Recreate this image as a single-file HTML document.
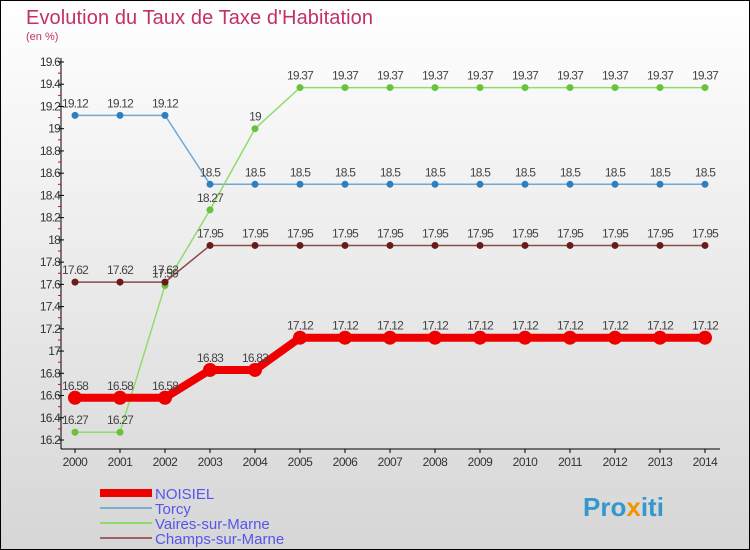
<!DOCTYPE html>
<html><head><meta charset="utf-8"><style>
body{margin:0}
svg{display:block;font-family:"Liberation Sans",sans-serif}
</style></head><body>
<svg id="c" width="750" height="550" xmlns="http://www.w3.org/2000/svg">
<defs><linearGradient id="bg" x1="0" y1="0" x2="0" y2="1"><stop offset="0" stop-color="#ffffff"/><stop offset="1" stop-color="#d6d6d6"/></linearGradient></defs>
<rect x="0.5" y="0.5" width="749" height="549" fill="url(#bg)" stroke="#000"/>
<text x="26" y="24" font-size="20" fill="#c2306a" textLength="347">Evolution du Taux de Taxe d'Habitation</text>
<text x="26" y="40" font-size="11" fill="#c2306a">(en %)</text>
<g id="axes"></g><g id="series"></g><g id="legend"></g>
<text x="583" y="516" font-size="26" font-weight="bold" fill="#3399cc">Pro<tspan fill="#f29400">x</tspan>iti</text>
</svg>
<script>
const years=[2000,2001,2002,2003,2004,2005,2006,2007,2008,2009,2010,2011,2012,2013,2014];
const noisiel=[16.58,16.58,16.58,16.83,16.83,17.12,17.12,17.12,17.12,17.12,17.12,17.12,17.12,17.12,17.12];
const torcy=[19.12,19.12,19.12,18.5,18.5,18.5,18.5,18.5,18.5,18.5,18.5,18.5,18.5,18.5,18.5];
const vaires=[16.27,16.27,17.59,18.27,19,19.37,19.37,19.37,19.37,19.37,19.37,19.37,19.37,19.37,19.37];
const champs=[17.62,17.62,17.62,17.95,17.95,17.95,17.95,17.95,17.95,17.95,17.95,17.95,17.95,17.95,17.95];
const yTicks=[16.2,16.4,16.6,16.8,17,17.2,17.4,17.6,17.8,18,18.2,18.4,18.6,18.8,19,19.2,19.4,19.6];
const NS="http://www.w3.org/2000/svg";
const X=i=>75+i*(630/(years.length-1));
const Y=v=>440-(v-16.2)*(378/3.4);
function mk(t,a,p){const e=document.createElementNS(NS,t);for(const k in a)e.setAttribute(k,a[k]);p.appendChild(e);return e;}
const ax=document.getElementById('axes');
const yl=mk('line',{x1:61,y1:58,x2:61,y2:449,stroke:'#000'},ax);


const xl=mk('line',{x1:61,y1:449,x2:720,y2:449,stroke:'#000'},ax);


yTicks.forEach((v,k)=>{const y=Y(v);
 mk('line',{x1:58,y1:y,x2:64,y2:y,stroke:'#000'},ax);
 if(k<yTicks.length-1) mk('line',{x1:58,y1:y-11.1,x2:61,y2:y-11.1,stroke:'#e00'},ax);
 const t=mk('text',{x:60,y:y+4,'font-size':12,'text-anchor':'end',fill:'#333','letter-spacing':'-0.8'},ax);
 t.textContent=(Math.round(v*10)/10).toString();
 
 });
years.forEach((yr,i)=>{const x=X(i);
 mk('line',{x1:x,y1:449,x2:x,y2:453,stroke:'#000'},ax);
 const t=mk('text',{x:x,y:466,'font-size':12,'text-anchor':'middle',fill:'#333','letter-spacing':'-0.5'},ax);
 t.textContent=yr;
 
 });
const sg=document.getElementById('series');
function draw(vals,color,dot,lw,r,name){
 const g=mk('g',{},sg);
 
 
 const pl=mk('polyline',{points:vals.map((v,i)=>X(i)+','+Y(v)).join(' '),fill:'none',stroke:color,'stroke-width':lw},g);
 
 
 vals.forEach((v,i)=>{
  const c=mk('circle',{cx:X(i),cy:Y(v),r:r,fill:dot},g);
  
  
  const t=mk('text',{x:X(i),y:Y(v)-8,'font-size':12,'text-anchor':'middle',fill:'#444','letter-spacing':'-0.8'},g);
  t.textContent=v;
  
  });
}
draw(torcy,'#6fa8d8','#2f7fc0',1.5,3.5,'torcy');
draw(vaires,'#8fdc6a','#6ac23a',1.5,3.5,'vaires');
draw(champs,'#8a4a4a','#6a1a1a',1.5,3.5,'champs');
draw(noisiel,'#ee0000','#ee0000',8,7,'noisiel');
const lg=document.getElementById('legend');
[['NOISIEL','#ee0000',8],['Torcy','#7aaed0',2],['Vaires-sur-Marne','#8fdc6a',2],['Champs-sur-Marne','#a06060',2]].forEach((e,k)=>{
 const y=493+k*15;
 const g=mk('g',{},lg);
 
 
 mk('line',{x1:100,y1:y,x2:152,y2:y,stroke:e[1],'stroke-width':e[2]},g);
 const t=mk('text',{x:155,y:y+6,'font-size':15,fill:'#5555ee'},g);
 t.textContent=e[0];});
</script>
</body></html>
